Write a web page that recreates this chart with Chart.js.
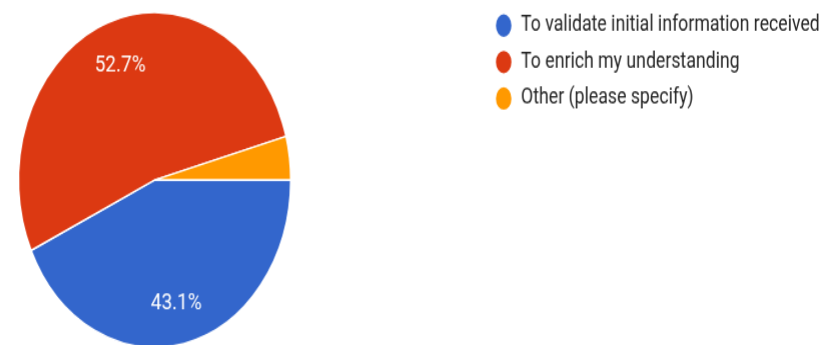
<!DOCTYPE html>
<html>
<head>
<meta charset="utf-8">
<title>Responses</title>
<script src="https://cdn.jsdelivr.net/npm/chart.js@4/dist/chart.umd.min.js"></script>
<style>
    html { overflow: hidden; }
    html, body { margin: 0; padding: 0; background: #fff; width: 832px; height: 345px; }
    #wrap {
        position: absolute;
        left: -173.8px;
        top: 0;
        width: 1065.8px;
        height: 296px;
        transform: scaleY(1.232);
        transform-origin: 0 0;
    }
</style>
</head>
<body>
<div id="wrap"><canvas id="responseChart"></canvas></div>
<script>
var categories = ['To validate initial information received', 'To enrich my understanding', 'Other (please specify)'];
var shares = [43.1, 52.7, 4.2];
var sliceColors = ['#3366cc', '#dc3912', '#ff9900'];

// where the legend box should start, in canvas pixels
var legendLeft = 656.6;

// percentage text inside the bigger slices
var sliceLabels = {
    id: 'sliceLabels',
    afterDatasetsDraw: function (chart) {
        var ctx = chart.ctx;
        var meta = chart.getDatasetMeta(0);
        var values = chart.data.datasets[0].data;
        var total = values.reduce(function (a, b) { return a + b; }, 0);
        ctx.save();
        ctx.fillStyle = '#fff';
        ctx.font = '19px Roboto';
        ctx.textAlign = 'center';
        ctx.textBaseline = 'middle';
        meta.data.forEach(function (arc, i) {
            if (values[i] / total < 0.05) return;
            var mid = (arc.startAngle + arc.endAngle) / 2;
            var r = arc.outerRadius * 0.74;
            ctx.fillText(values[i].toFixed(1) + '%', arc.x + Math.cos(mid) * r, arc.y + Math.sin(mid) * r + 2);
        });
        ctx.restore();
    }
};

var chart = new Chart('responseChart', {
    type: 'pie',
    data: {
        labels: categories,
        datasets: [{
            data: shares,
            backgroundColor: sliceColors,
            borderColor: '#fff',
            borderWidth: 1.5,
            radius: 136
        }]
    },
    options: {
        responsive: true,
        maintainAspectRatio: false,
        animation: false,
        events: [],
        rotation: 90,
        layout: {
            padding: { left: 0, right: 67, top: 0, bottom: 3.8 }
        },
        plugins: {
            tooltip: { enabled: false },
            legend: {
                position: 'right',
                align: 'start',
                labels: {
                    usePointStyle: true,
                    pointStyle: 'circle',
                    pointStyleWidth: 17,
                    boxHeight: 14,
                    padding: 11.9,
                    color: '#222',
                    font: { family: 'Roboto', size: 17.7 }
                }
            }
        }
    },
    plugins: [sliceLabels]
});

// the legend width depends on the text, so pin its left edge afterwards
chart.options.layout.padding.right += chart.legend.left - legendLeft;
chart.update();
</script>
</body>
</html>
